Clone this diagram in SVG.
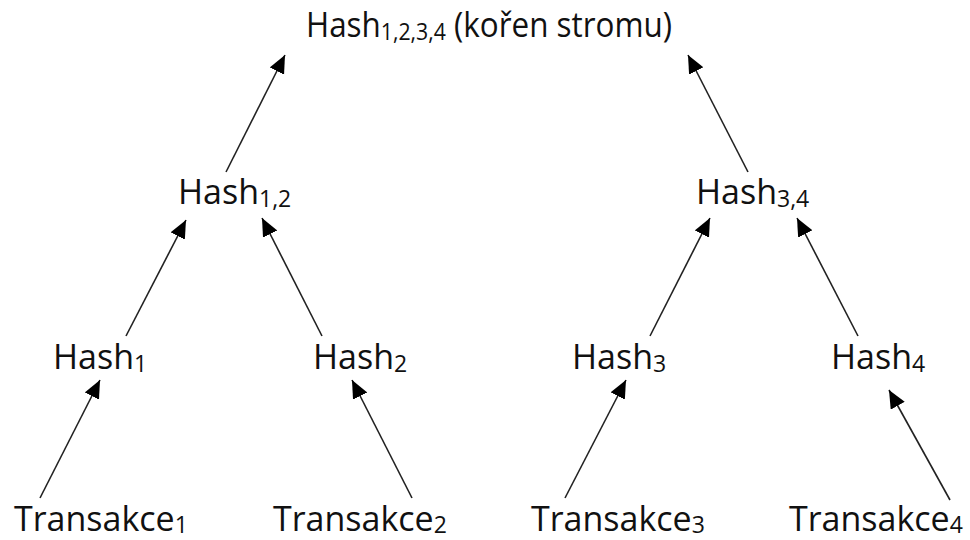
<svg xmlns="http://www.w3.org/2000/svg" width="970" height="540" viewBox="0 0 970 540">
<defs>
<style>
text{font-family:"Open Sans","Noto Sans",sans-serif;font-size:34px;fill:#111}
.s{font-size:23px}
.c line{stroke:#222;stroke-width:1.6;marker-end:url(#ah)}
</style>
<marker id="ah" markerUnits="userSpaceOnUse" markerWidth="20" markerHeight="18" refX="18" refY="8" orient="auto" viewBox="0 0 20 18">
<path d="M0,0 L18,8 L0,16 z" fill="#000"/>
</marker>
</defs>
<rect width="970" height="540" fill="#fff"/>
<g class="c" id="connectors">
<line x1="40" y1="498" x2="100" y2="380"/>
<line x1="412" y1="498" x2="352" y2="380"/>
<line x1="565" y1="498" x2="626" y2="380"/>
<line x1="950" y1="500" x2="889" y2="390"/>
<line x1="126" y1="336" x2="186" y2="220"/>
<line x1="322" y1="336" x2="262" y2="218"/>
<line x1="650" y1="336" x2="710" y2="218"/>
<line x1="858" y1="336" x2="797" y2="218"/>
<line x1="226" y1="172" x2="285" y2="55"/>
<line x1="748" y1="172" x2="688" y2="55"/>
</g>
<g id="root"><text x="306" y="37" textLength="366" lengthAdjust="spacingAndGlyphs">Hash<tspan class="s" dy="3">1,2,3,4</tspan><tspan dy="-3"> (kořen stromu)</tspan></text></g>
<g id="h12"><text x="178" y="204">Hash<tspan class="s" dy="3">1,2</tspan></text></g>
<g id="h34"><text x="696" y="204">Hash<tspan class="s" dy="3">3,4</tspan></text></g>
<g id="h1"><text x="53" y="369">Hash<tspan class="s" dy="3">1</tspan></text></g>
<g id="h2"><text x="313" y="369">Hash<tspan class="s" dy="3">2</tspan></text></g>
<g id="h3"><text x="572" y="369">Hash<tspan class="s" dy="3">3</tspan></text></g>
<g id="h4"><text x="831" y="369">Hash<tspan class="s" dy="3">4</tspan></text></g>
<g id="t1"><text x="14" y="531">Transakce<tspan class="s" dy="2">1</tspan></text></g>
<g id="t2"><text x="273" y="531">Transakce<tspan class="s" dy="2">2</tspan></text></g>
<g id="t3"><text x="531" y="531">Transakce<tspan class="s" dy="2">3</tspan></text></g>
<g id="t4"><text x="789" y="531">Transakce<tspan class="s" dy="2">4</tspan></text></g>
</svg>
